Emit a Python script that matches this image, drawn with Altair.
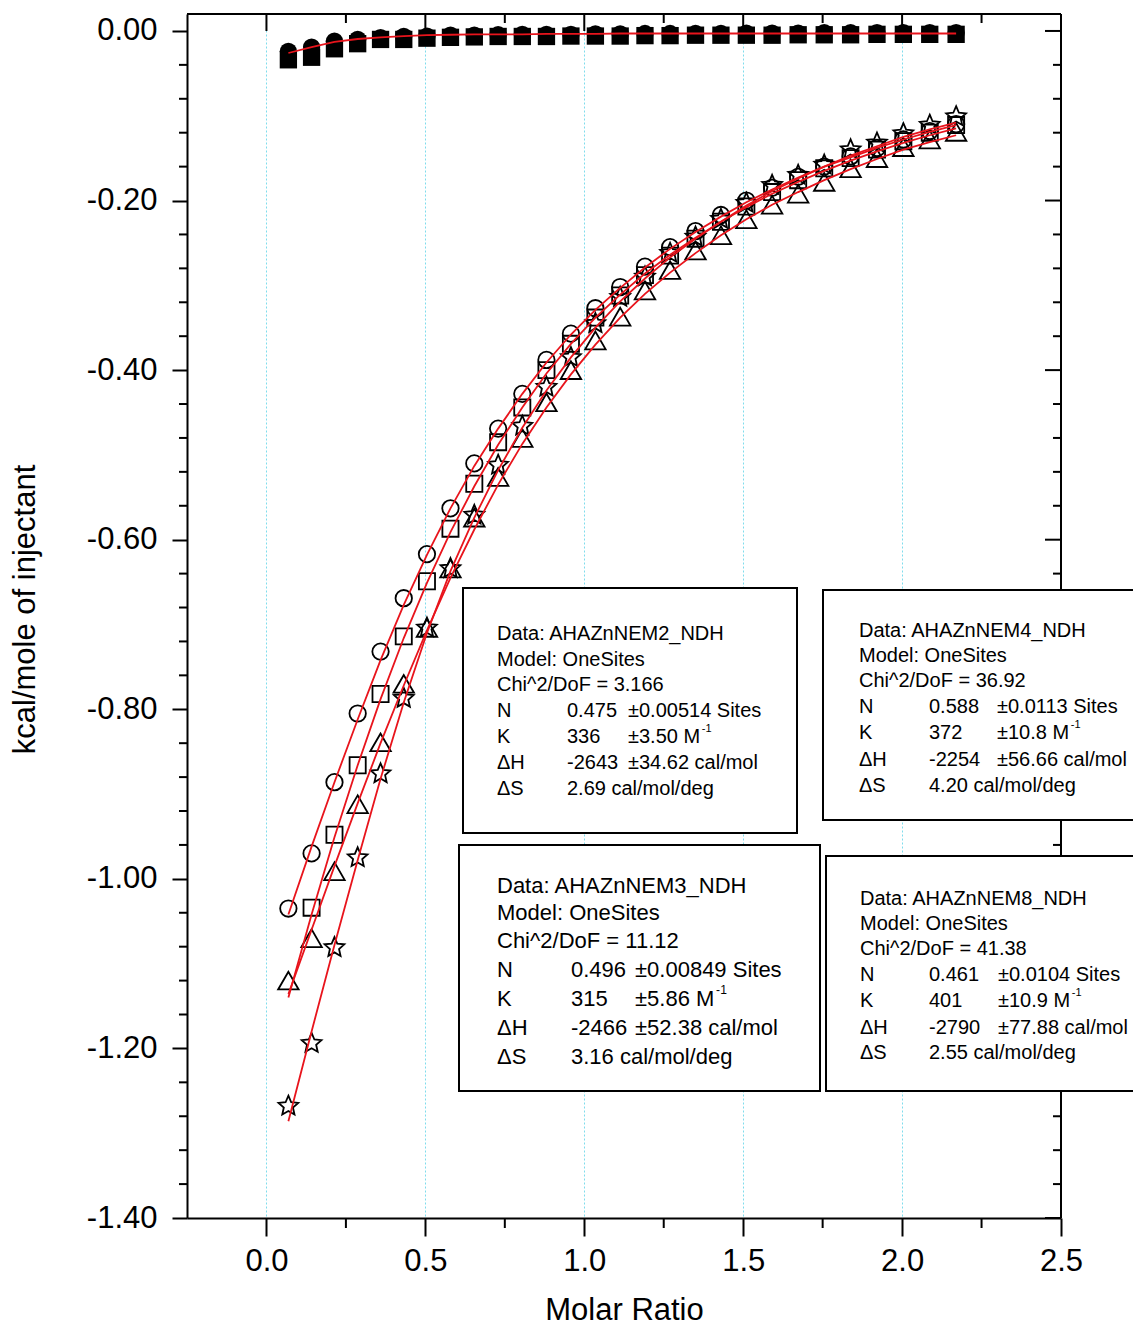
import altair as alt
import pandas as pd

# ---------------- data ----------------
molar_ratio = [0.069, 0.142, 0.214, 0.287, 0.359, 0.432, 0.505, 0.579, 0.654, 0.729,
               0.805, 0.881, 0.958, 1.035, 1.113, 1.191, 1.270, 1.350, 1.430, 1.510,
               1.591, 1.673, 1.755, 1.838, 1.921, 2.004, 2.087, 2.170]

nem2_circle = [-1.035, -0.970, -0.886, -0.805, -0.732, -0.669, -0.617, -0.563, -0.510, -0.469,
               -0.428, -0.388, -0.357, -0.327, -0.302, -0.278, -0.255, -0.236, -0.217, -0.200,
               -0.185, -0.172, -0.160, -0.148, -0.138, -0.128, -0.118, -0.110]
nem3_square = [None, -1.034, -0.948, -0.866, -0.782, -0.714, -0.649, -0.587, -0.534, -0.485,
               -0.444, -0.400, -0.369, -0.338, -0.312, -0.288, -0.265, -0.245, -0.225, -0.207,
               -0.190, -0.176, -0.162, -0.150, -0.140, -0.130, -0.120, -0.111]
nem4_triangle = [-1.120, -1.070, -0.991, -0.912, -0.839, -0.770, -0.704, -0.634, -0.574, -0.526,
                 -0.480, -0.438, -0.400, -0.365, -0.337, -0.306, -0.282, -0.259, -0.241, -0.222,
                 -0.205, -0.192, -0.178, -0.162, -0.150, -0.137, -0.128, -0.119]
nem8_star = [-1.268, -1.194, -1.081, -0.975, -0.876, -0.787, -0.704, -0.634, -0.571, -0.512,
             -0.466, -0.420, -0.385, -0.345, -0.314, -0.290, -0.262, -0.243, -0.222, -0.203,
             -0.182, -0.170, -0.158, -0.140, -0.132, -0.121, -0.111, -0.101]

fit_nem2 = [-1.042, -0.962, -0.886, -0.812, -0.742, -0.677, -0.618, -0.563, -0.513, -0.469,
            -0.428, -0.391, -0.358, -0.329, -0.303, -0.279, -0.257, -0.237, -0.219, -0.202,
            -0.187, -0.173, -0.160, -0.149, -0.138, -0.128, -0.119, -0.111]
fit_nem3 = [-1.140, -1.042, -0.951, -0.866, -0.788, -0.716, -0.651, -0.591, -0.537, -0.488,
            -0.444, -0.404, -0.369, -0.338, -0.311, -0.286, -0.264, -0.244, -0.225, -0.208,
            -0.192, -0.178, -0.165, -0.153, -0.142, -0.132, -0.123, -0.115]
fit_nem4 = [-1.136, -1.060, -0.985, -0.911, -0.840, -0.772, -0.707, -0.645, -0.588, -0.535,
            -0.487, -0.444, -0.405, -0.370, -0.338, -0.310, -0.285, -0.262, -0.241, -0.222,
            -0.205, -0.190, -0.176, -0.163, -0.151, -0.140, -0.131, -0.123]
fit_nem8 = [-1.286, -1.180, -1.078, -0.978, -0.882, -0.792, -0.710, -0.637, -0.574, -0.518,
            -0.468, -0.424, -0.385, -0.350, -0.319, -0.292, -0.267, -0.245, -0.225, -0.206,
            -0.189, -0.174, -0.160, -0.147, -0.136, -0.125, -0.116, -0.108]

blank_square = [-0.034, -0.031, -0.021, -0.015, -0.010, -0.010, -0.0085, -0.0075, -0.007, -0.0065,
                -0.0065, -0.0065, -0.006, -0.006, -0.006, -0.0055, -0.0055, -0.005, -0.005, -0.005,
                -0.005, -0.0045, -0.0045, -0.0045, -0.004, -0.004, -0.004, -0.004]
blank_circle = [-0.024, -0.019, -0.012, -0.010, -0.008, -0.0065, -0.006, -0.005, -0.005, -0.0045,
                -0.004, -0.004, -0.004, -0.0035, -0.0035, -0.003, -0.003, -0.003, -0.003, -0.0025,
                -0.0025, -0.0025, -0.002, -0.002, -0.002, -0.002, -0.002, -0.002]
fit_blank = [-0.026, -0.019, -0.013, -0.0095, -0.0075, -0.006, -0.005, -0.0045, -0.004, -0.004,
             -0.004, -0.0035, -0.0035, -0.0035, -0.003, -0.003, -0.003, -0.003, -0.003, -0.003,
             -0.003, -0.003, -0.003, -0.003, -0.003, -0.003, -0.003, -0.003]

x_major = [0.0, 0.5, 1.0, 1.5, 2.0, 2.5]
x_minor = [0.25, 0.75, 1.25, 1.75, 2.25]
y_major = [-1.4, -1.2, -1.0, -0.8, -0.6, -0.4, -0.2, 0.0]
y_minor = [round(k * 0.04, 2) for k in range(-35, 0) if k % 5 != 0]

box_texts = {
    "NEM2": [["Data: AHAZnNEM2_NDH"], ["Model: OneSites"], ["Chi^2/DoF = 3.166"],
             ["N", "0.475", "\u00b10.00514 Sites"], ["K", "336", "\u00b13.50 M"],
             ["\u0394H", "-2643", "\u00b134.62 cal/mol"], ["\u0394S", "2.69 cal/mol/deg"]],
    "NEM4": [["Data: AHAZnNEM4_NDH"], ["Model: OneSites"], ["Chi^2/DoF = 36.92"],
             ["N", "0.588", "\u00b10.0113 Sites"], ["K", "372", "\u00b110.8 M"],
             ["\u0394H", "-2254", "\u00b156.66 cal/mol"], ["\u0394S", "4.20 cal/mol/deg"]],
    "NEM3": [["Data: AHAZnNEM3_NDH"], ["Model: OneSites"], ["Chi^2/DoF = 11.12"],
             ["N", "0.496", "\u00b10.00849 Sites"], ["K", "315", "\u00b15.86 M"],
             ["\u0394H", "-2466", "\u00b152.38 cal/mol"], ["\u0394S", "3.16 cal/mol/deg"]],
    "NEM8": [["Data: AHAZnNEM8_NDH"], ["Model: OneSites"], ["Chi^2/DoF = 41.38"],
             ["N", "0.461", "\u00b10.0104 Sites"], ["K", "401", "\u00b110.9 M"],
             ["\u0394H", "-2790", "\u00b177.88 cal/mol"], ["\u0394S", "2.55 cal/mol/deg"]],
}

# ---------------- layout (pixels of the picture) ----------------
W, H = 874, 1204
PLOT_L, PLOT_T = 187, 14
X_DOM = [-0.25, 2.5]
Y_DOM = [-1.40, 0.02]


def dx(px):
    return X_DOM[0] + (px - PLOT_L) * (X_DOM[1] - X_DOM[0]) / W


def dy(py):
    return Y_DOM[1] - (py - PLOT_T) * (Y_DOM[1] - Y_DOM[0]) / H


# box: rect (l, r, t, b), columns x, row centres y, font size
box_layout = {
    "NEM2": dict(rect=(463, 797, 588, 833), cols=(497, 567, 628),
                 rows=(634, 660, 685, 711, 737, 763, 789), fs=20),
    "NEM4": dict(rect=(823, 1160, 590, 820), cols=(859, 929, 997),
                 rows=(631, 656, 681, 707, 733, 760, 786), fs=20),
    "NEM3": dict(rect=(459, 820, 845, 1091), cols=(497, 571, 635),
                 rows=(886, 913, 941, 970, 999, 1028, 1057), fs=22),
    "NEM8": dict(rect=(826, 1160, 856, 1091), cols=(860, 929, 998),
                 rows=(899, 924, 949, 975, 1001, 1028, 1053), fs=20),
}

FONT = "Liberation Sans, Arial, Helvetica, sans-serif"
RED = "#e8141c"

xscale = alt.Scale(domain=X_DOM, nice=False, zero=False)
yscale = alt.Scale(domain=Y_DOM, nice=False, zero=False)

x_axis = alt.Axis(values=x_major, format=".1f", title="Molar Ratio",
                  grid=True, gridColor="#7fdcec", gridDash=[2, 2], gridWidth=1,
                  tickSize=18, tickWidth=2, tickColor="black",
                  domainColor="black", domainWidth=2,
                  labelFont=FONT, labelFontSize=31, labelColor="black", labelPadding=10,
                  labelFlush=False, labelOverlap=False,
                  titleFont=FONT, titleFontSize=31, titleFontWeight="normal", titleColor="black",
                  titleY=101, titleBaseline="alphabetic")
y_axis = alt.Axis(values=y_major, title="kcal/mole of injectant",
                  labelExpr="replace(format(datum.value, '.2f'), '\u2212', '-')",
                  grid=False, tickSize=15, tickWidth=2, tickColor="black",
                  domainColor="black", domainWidth=2,
                  labelFont=FONT, labelFontSize=31, labelColor="black", labelPadding=15,
                  labelOverlap=False,
                  titleFont=FONT, titleFontSize=31, titleFontWeight="normal", titleColor="black",
                  titleX=-162, titleY=595, titleAngle=-90, titleBaseline="middle", titleAlign="center")

X = alt.X("x:Q", scale=xscale, axis=x_axis)
Y = alt.Y("y:Q", scale=yscale, axis=y_axis)


def pts(vals):
    return pd.DataFrame({"x": molar_ratio, "y": vals}).dropna()


STAR = ("M0,-1L0.27,-0.37L0.951,-0.309L0.44,0.143L0.588,0.809L0,0.47"
        "L-0.588,0.809L-0.44,0.143L-0.951,-0.309L-0.27,-0.37Z")

layers = []

# minor ticks (left / bottom)
layers.append(alt.Chart(pd.DataFrame({"y": y_minor})).mark_rule(color="black", strokeWidth=2)
              .encode(y=Y, x=alt.value(-8), x2=alt.value(0)))
layers.append(alt.Chart(pd.DataFrame({"x": x_minor})).mark_rule(color="black", strokeWidth=2)
              .encode(x=X, y=alt.value(H), y2=alt.value(H + 10)))

# blank (filled) series on top
layers.append(alt.Chart(pts(blank_square)).mark_point(shape="square", filled=True, size=300,
                                                      color="black", opacity=1).encode(x=X, y=Y))
layers.append(alt.Chart(pts(blank_circle)).mark_point(shape="circle", filled=True, size=300,
                                                      color="black", opacity=1).encode(x=X, y=Y))

# open symbols
open_kw = dict(filled=False, color="black", strokeWidth=1.8, opacity=1)
layers.append(alt.Chart(pts(nem2_circle)).mark_point(shape="circle", size=270, **open_kw).encode(x=X, y=Y))
layers.append(alt.Chart(pts(nem3_square)).mark_point(shape="square", size=260, **open_kw).encode(x=X, y=Y))
layers.append(alt.Chart(pts(nem4_triangle)).mark_point(shape="triangle-up", size=420, **open_kw).encode(x=X, y=Y))
layers.append(alt.Chart(pts(nem8_star)).mark_point(shape=STAR, size=430, **open_kw).encode(x=X, y=Y))

# fitted curves
fits = []
for name, vals in [("blank", fit_blank), ("NEM2", fit_nem2), ("NEM3", fit_nem3),
                   ("NEM4", fit_nem4), ("NEM8", fit_nem8)]:
    for xv, yv in zip(molar_ratio, vals):
        fits.append({"x": xv, "y": yv, "s": name})
layers.append(alt.Chart(pd.DataFrame(fits)).mark_line(color=RED, strokeWidth=1.8)
              .encode(x=X, y=Y, detail="s:N"))

# top / right ticks and frame
one = alt.Data(values=[{}])
layers.append(alt.Chart(pd.DataFrame({"x": x_major[:-1]})).mark_rule(color="black", strokeWidth=2)
              .encode(x=X, y=alt.value(0), y2=alt.value(17)))
layers.append(alt.Chart(pd.DataFrame({"x": x_minor})).mark_rule(color="black", strokeWidth=2)
              .encode(x=X, y=alt.value(0), y2=alt.value(9)))
layers.append(alt.Chart(pd.DataFrame({"y": y_major})).mark_rule(color="black", strokeWidth=2)
              .encode(y=Y, x=alt.value(W - 16), x2=alt.value(W)))
layers.append(alt.Chart(pd.DataFrame({"y": y_minor})).mark_rule(color="black", strokeWidth=2)
              .encode(y=Y, x=alt.value(W - 8), x2=alt.value(W)))
layers.append(alt.Chart(one).mark_rule(color="black", strokeWidth=2)
              .encode(x=alt.value(0), x2=alt.value(W), y=alt.value(0)))
layers.append(alt.Chart(one).mark_rule(color="black", strokeWidth=2)
              .encode(x=alt.value(W), y=alt.value(0), y2=alt.value(H)))

# result boxes
rects, texts = [], []
for key, lay in box_layout.items():
    l, r, t, b = lay["rect"]
    rects.append({"x": dx(l), "x2": dx(r), "y": dy(t), "y2": dy(b)})
    fs = lay["fs"]
    for row, yc in zip(box_texts[key], lay["rows"]):
        for ci, piece in enumerate(row):
            texts.append({"x": dx(lay["cols"][ci]), "y": dy(yc), "t": piece, "fs": fs})
        if row[0] == "K":
            sx = lay["cols"][2] + 3.641 * fs + 1
            texts.append({"x": dx(sx), "y": dy(yc - 0.42 * fs), "t": "-1", "fs": fs * 0.55})

layers.append(alt.Chart(pd.DataFrame(rects)).mark_rect(fill="white", stroke="black", strokeWidth=2)
              .encode(x=X, x2="x2:Q", y=Y, y2="y2:Q"))
layers.append(alt.Chart(pd.DataFrame(texts)).mark_text(align="left", baseline="middle", font=FONT,
                                                      color="black")
              .encode(x=X, y=Y, text="t:N", size=alt.Size("fs:Q", scale=None, legend=None)))

chart = (alt.layer(*layers)
         .properties(width=W, height=H,
                     padding={"left": PLOT_L - 8, "top": PLOT_T - 8, "right": 72, "bottom": 109},
                     autosize=alt.AutoSizeParams(type="none"), background="white")
         .configure_view(stroke=None))

chart.save("out.html", embed_options={"renderer": "svg", "actions": False})
